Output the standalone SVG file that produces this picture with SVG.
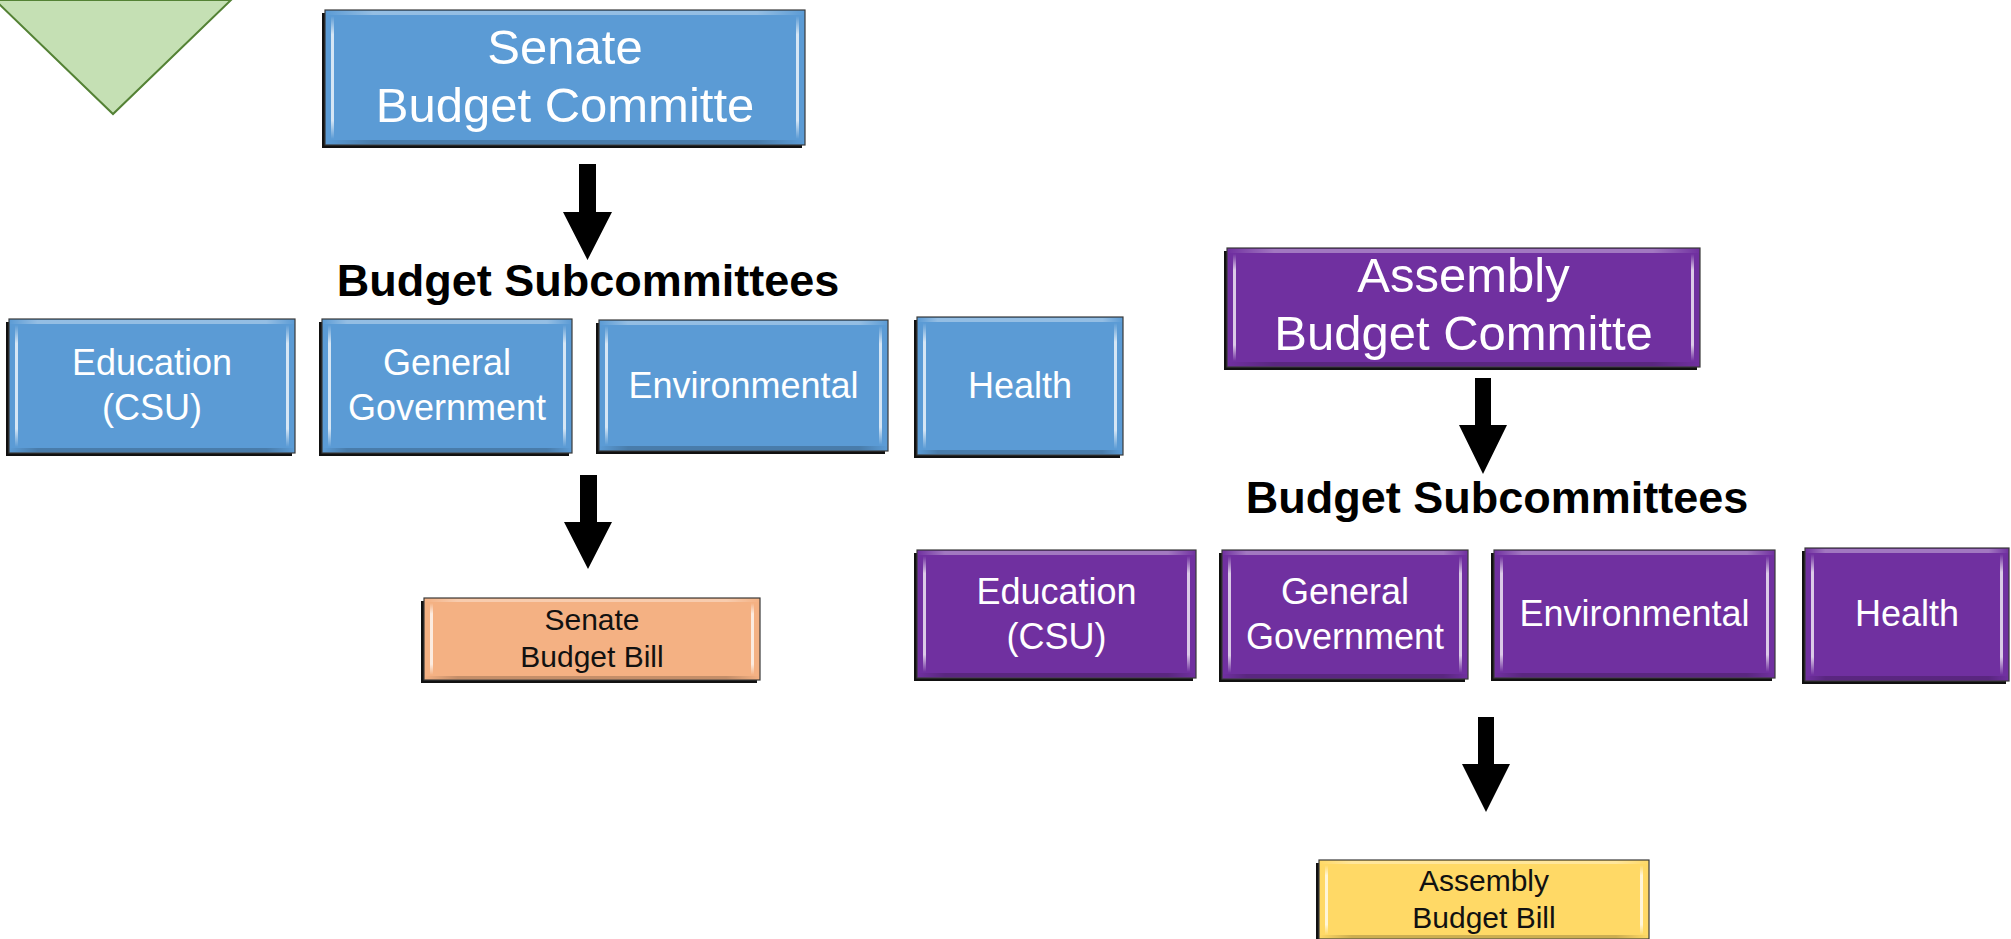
<svg xmlns="http://www.w3.org/2000/svg" width="2011" height="939" viewBox="0 0 2011 939">
  <defs>
    <!-- bevel highlight running down the inner side edges -->
    <linearGradient id="edgeGlow" x1="0" y1="0" x2="0" y2="1">
      <stop offset="0" stop-color="#ffffff" stop-opacity="0"/>
      <stop offset="0.15" stop-color="#ffffff" stop-opacity="0.75"/>
      <stop offset="0.85" stop-color="#ffffff" stop-opacity="0.75"/>
      <stop offset="1" stop-color="#ffffff" stop-opacity="0"/>
    </linearGradient>
    <linearGradient id="topGlow" x1="0" y1="0" x2="1" y2="0">
      <stop offset="0" stop-color="#ffffff" stop-opacity="0"/>
      <stop offset="0.1" stop-color="#ffffff" stop-opacity="0.35"/>
      <stop offset="0.9" stop-color="#ffffff" stop-opacity="0.35"/>
      <stop offset="1" stop-color="#ffffff" stop-opacity="0"/>
    </linearGradient>
    <linearGradient id="bottomShade" x1="0" y1="0" x2="1" y2="0">
      <stop offset="0" stop-color="#000000" stop-opacity="0"/>
      <stop offset="0.1" stop-color="#000000" stop-opacity="0.2"/>
      <stop offset="0.9" stop-color="#000000" stop-opacity="0.2"/>
      <stop offset="1" stop-color="#000000" stop-opacity="0"/>
    </linearGradient>
  </defs>
  <style>
    .shadow { fill: #111111; }
    .box { stroke: #3a3a3a; stroke-width: 1.2; }
    .blue { fill: #5b9bd5; }
    .purple { fill: #7030a0; }
    .orange { fill: #f4b183; }
    .yellow { fill: #ffd966; }
    .side { fill: url(#edgeGlow); }
    .top { fill: url(#topGlow); }
    .bot { fill: url(#bottomShade); }
    .big { font-family: "Liberation Sans", Arial, sans-serif; font-size: 49px; fill: #ffffff; text-anchor: middle; }
    .mid { font-family: "Liberation Sans", Arial, sans-serif; font-size: 36px; fill: #ffffff; text-anchor: middle; }
    .bill { font-family: "Liberation Sans", Arial, sans-serif; font-size: 30px; fill: #111111; text-anchor: middle; }
    .head { font-family: "Liberation Sans", Arial, sans-serif; font-size: 45px; font-weight: bold; fill: #000000; text-anchor: middle; }
    .arrow { fill: #000000; }
  </style>

  <rect width="2011" height="939" fill="#ffffff"/>

  <!-- green marker triangle at the top-left corner -->
  <polygon points="-5,0 231,0 113,114" fill="#c5e0b4" stroke="#548235" stroke-width="2"/>

  <!-- Senate side -->
  <g id="senate-committee">
    <rect class="shadow" x="322" y="13" width="480" height="135"/>
    <rect class="box blue" x="325" y="10" width="480" height="135"/>
    <rect class="top" x="325" y="11" width="480" height="4"/>
    <rect class="bot" x="325" y="140" width="480" height="4"/>
    <rect class="side" x="331" y="16" width="3" height="123"/>
    <rect class="side" x="796" y="16" width="3" height="123"/>
    <text class="big" x="565" y="64">Senate</text>
    <text class="big" x="565" y="122">Budget Committe</text>
  </g>

  <text id="senate-subcommittees-label" class="head" x="588" y="296">Budget Subcommittees</text>

  <g id="senate-education">
    <rect class="shadow" x="6" y="322" width="286" height="134"/>
    <rect class="box blue" x="9" y="319" width="286" height="134"/>
    <rect class="top" x="9" y="320" width="286" height="4"/>
    <rect class="bot" x="9" y="448" width="286" height="4"/>
    <rect class="side" x="15" y="325" width="3" height="122"/>
    <rect class="side" x="286" y="325" width="3" height="122"/>
    <text class="mid" x="152" y="375">Education</text>
    <text class="mid" x="152" y="420">(CSU)</text>
  </g>

  <g id="senate-general-government">
    <rect class="shadow" x="319" y="322" width="250" height="134"/>
    <rect class="box blue" x="322" y="319" width="250" height="134"/>
    <rect class="top" x="322" y="320" width="250" height="4"/>
    <rect class="bot" x="322" y="448" width="250" height="4"/>
    <rect class="side" x="328" y="325" width="3" height="122"/>
    <rect class="side" x="563" y="325" width="3" height="122"/>
    <text class="mid" x="447" y="375">General</text>
    <text class="mid" x="447" y="420">Government</text>
  </g>

  <g id="senate-environmental">
    <rect class="shadow" x="596" y="323" width="289" height="131"/>
    <rect class="box blue" x="599" y="320" width="289" height="131"/>
    <rect class="top" x="599" y="321" width="289" height="4"/>
    <rect class="bot" x="599" y="446" width="289" height="4"/>
    <rect class="side" x="605" y="326" width="3" height="119"/>
    <rect class="side" x="879" y="326" width="3" height="119"/>
    <text class="mid" x="743.5" y="398">Environmental</text>
  </g>

  <g id="senate-health">
    <rect class="shadow" x="914" y="320" width="206" height="138"/>
    <rect class="box blue" x="917" y="317" width="206" height="138"/>
    <rect class="top" x="917" y="318" width="206" height="4"/>
    <rect class="bot" x="917" y="450" width="206" height="4"/>
    <rect class="side" x="923" y="323" width="3" height="126"/>
    <rect class="side" x="1114" y="323" width="3" height="126"/>
    <text class="mid" x="1020" y="398">Health</text>
  </g>

  <g id="senate-budget-bill">
    <rect class="shadow" x="421" y="601" width="336" height="82"/>
    <rect class="box orange" x="424" y="598" width="336" height="82"/>
    <rect class="top" x="424" y="599" width="336" height="3"/>
    <rect class="bot" x="424" y="676" width="336" height="3"/>
    <rect class="side" x="430" y="603" width="3" height="72"/>
    <rect class="side" x="751" y="603" width="3" height="72"/>
    <text class="bill" x="592" y="630">Senate</text>
    <text class="bill" x="592" y="667">Budget Bill</text>
  </g>

  <!-- Assembly side -->
  <g id="assembly-committee">
    <rect class="shadow" x="1224" y="251" width="473" height="119"/>
    <rect class="box purple" x="1227" y="248" width="473" height="119"/>
    <rect class="top" x="1227" y="249" width="473" height="4"/>
    <rect class="bot" x="1227" y="362" width="473" height="4"/>
    <rect class="side" x="1233" y="254" width="3" height="107"/>
    <rect class="side" x="1691" y="254" width="3" height="107"/>
    <text class="big" x="1463.5" y="292">Assembly</text>
    <text class="big" x="1463.5" y="350">Budget Committe</text>
  </g>

  <text id="assembly-subcommittees-label" class="head" x="1497" y="513">Budget Subcommittees</text>

  <g id="assembly-education">
    <rect class="shadow" x="914" y="553" width="279" height="128"/>
    <rect class="box purple" x="917" y="550" width="279" height="128"/>
    <rect class="top" x="917" y="551" width="279" height="4"/>
    <rect class="bot" x="917" y="673" width="279" height="4"/>
    <rect class="side" x="923" y="556" width="3" height="116"/>
    <rect class="side" x="1187" y="556" width="3" height="116"/>
    <text class="mid" x="1056.5" y="604">Education</text>
    <text class="mid" x="1056.5" y="649">(CSU)</text>
  </g>

  <g id="assembly-general-government">
    <rect class="shadow" x="1219" y="553" width="246" height="129"/>
    <rect class="box purple" x="1222" y="550" width="246" height="129"/>
    <rect class="top" x="1222" y="551" width="246" height="4"/>
    <rect class="bot" x="1222" y="674" width="246" height="4"/>
    <rect class="side" x="1228" y="556" width="3" height="117"/>
    <rect class="side" x="1459" y="556" width="3" height="117"/>
    <text class="mid" x="1345" y="604">General</text>
    <text class="mid" x="1345" y="649">Government</text>
  </g>

  <g id="assembly-environmental">
    <rect class="shadow" x="1491" y="553" width="281" height="128"/>
    <rect class="box purple" x="1494" y="550" width="281" height="128"/>
    <rect class="top" x="1494" y="551" width="281" height="4"/>
    <rect class="bot" x="1494" y="673" width="281" height="4"/>
    <rect class="side" x="1500" y="556" width="3" height="116"/>
    <rect class="side" x="1766" y="556" width="3" height="116"/>
    <text class="mid" x="1634.5" y="626">Environmental</text>
  </g>

  <g id="assembly-health">
    <rect class="shadow" x="1802" y="551" width="204" height="133"/>
    <rect class="box purple" x="1805" y="548" width="204" height="133"/>
    <rect class="top" x="1805" y="549" width="204" height="4"/>
    <rect class="bot" x="1805" y="676" width="204" height="4"/>
    <rect class="side" x="1811" y="554" width="3" height="121"/>
    <rect class="side" x="2000" y="554" width="3" height="121"/>
    <text class="mid" x="1907" y="626">Health</text>
  </g>

  <g id="assembly-budget-bill">
    <rect class="shadow" x="1316" y="863" width="330" height="79"/>
    <rect class="box yellow" x="1319" y="860" width="330" height="79"/>
    <rect class="top" x="1319" y="861" width="330" height="3"/>
    <rect class="bot" x="1319" y="935" width="330" height="3"/>
    <rect class="side" x="1325" y="865" width="3" height="70"/>
    <rect class="side" x="1640" y="865" width="3" height="70"/>
    <text class="bill" x="1484" y="891">Assembly</text>
    <text class="bill" x="1484" y="928">Budget Bill</text>
  </g>

  <!-- block arrows between the stages -->
  <g id="connectors">
    <polygon class="arrow" points="579,164 596,164 596,212 612,212 587.5,260 563,212 579,212"/>
    <polygon class="arrow" points="580,475 597,475 597,522 612,522 588,569 564,522 580,522"/>
    <polygon class="arrow" points="1475,378 1491,378 1491,425 1507,425 1483,474 1459,425 1475,425"/>
    <polygon class="arrow" points="1478,717 1494,717 1494,764 1510,764 1486,812 1462,764 1478,764"/>
  </g>
</svg>
